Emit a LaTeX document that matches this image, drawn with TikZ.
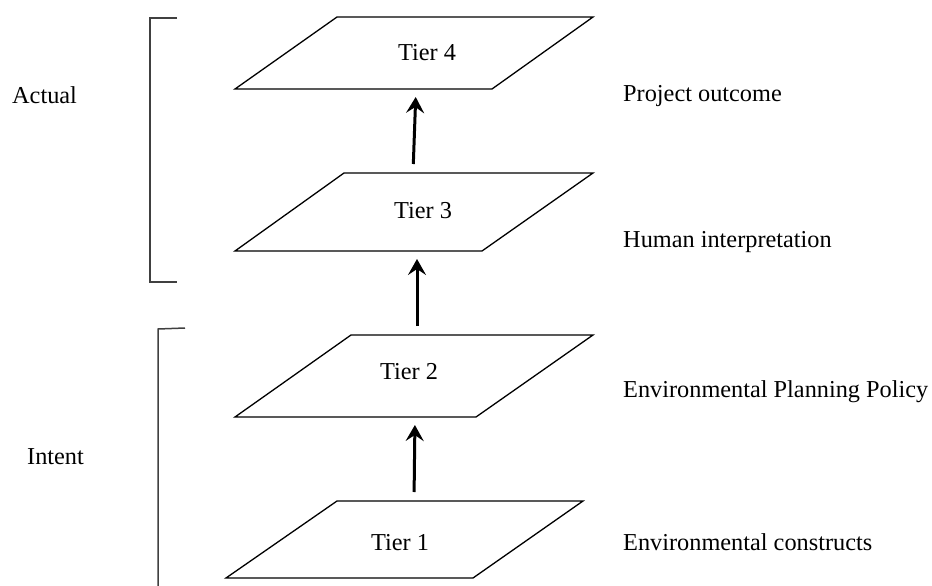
\documentclass[tikz,border=0pt]{standalone}
\usepackage{fontspec}
\setmainfont{Liberation Serif}
\usepackage{tikz}
\usetikzlibrary{arrows.meta}

\tikzset{
    plane/.style={draw, line width=1.3pt, line join=miter},
    tiertext/.style={anchor=base, inner sep=0pt},
    sidetext/.style={anchor=base west, inner sep=0pt},
    bracketline/.style={draw=black!75, line width=1.5pt},
    rise/.style={-{Stealth[length=16pt, width=18pt, inset=6pt]}, line width=3pt, shorten <=9pt, shorten >=8pt}
}

\begin{document}
\begin{tikzpicture}[x=1pt, y=-1pt, font=\fontsize{24.3}{29}\selectfont]
        \clip (0, 0) rectangle (932, 586);

        % Tier 4
        \draw[plane] (235, 89) -- (337, 17) -- (593, 17) -- (492, 89) -- cycle;
        \node[tiertext] (tier4) at (427, 60) {Tier 4};
        \coordinate (tier4-s) at (416, 89);

        % Tier 3
        \draw[plane] (235, 251) -- (344, 173) -- (593, 173) -- (482, 251) -- cycle;
        \node[tiertext] (tier3) at (423, 218) {Tier 3};
        \coordinate (tier3-n) at (413, 173);
        \coordinate (tier3-s) at (417, 251);

        % Tier 2
        \draw[plane] (235, 417) -- (351, 335) -- (593, 335) -- (476, 417) -- cycle;
        \node[tiertext] (tier2) at (409, 379) {Tier 2};
        \coordinate (tier2-n) at (417, 335);
        \coordinate (tier2-s) at (415, 417);

        % Tier 1
        \draw[plane] (226, 578) -- (337, 501) -- (583, 501) -- (473, 578) -- cycle;
        \node[tiertext] (tier1) at (400, 550) {Tier 1};
        \coordinate (tier1-n) at (414, 501);

        % Arrows between tiers
        \draw[rise] (tier1-n) -- (tier2-s);
        \draw[rise] (tier2-n) -- (tier3-s);
        \draw[rise] (tier3-n) -- (tier4-s);

        % Descriptions
        \node[sidetext] (outcome) at (623, 102) {Project outcome};
        \node[sidetext] (human) at (623, 247) {Human interpretation};
        \node[sidetext] (policy) at (623, 397) {Environmental Planning Policy};
        \node[sidetext] (constructs) at (623, 550) {Environmental constructs};

        % Brackets
        \draw[bracketline] (177, 18) -- (150, 18) -- (150, 282) -- (177, 282);
        \node[sidetext] (actual) at (12, 103) {Actual};
        \draw[bracketline] (185, 328) -- (158, 329) -- (158, 600);
        \node[sidetext] (intent) at (27, 464) {Intent};
\end{tikzpicture}
\end{document}
